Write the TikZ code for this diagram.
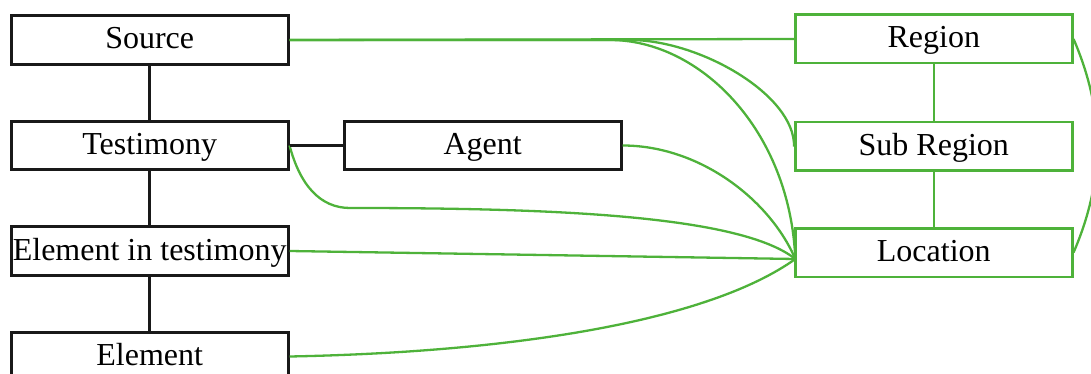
\documentclass[tikz,border=0pt]{standalone}
\usepackage{fontspec}
\setmainfont{Liberation Serif}
\definecolor{lgreen}{RGB}{78,178,58}
\begin{document}
\begin{tikzpicture}[x=1pt,y=-1pt,
  box/.style={line width=2.7pt, minimum width=277pt, minimum height=48.5pt,
    inner sep=0pt, text height=21pt, text depth=3pt,
    font=\fontsize{32}{36}\selectfont},
  blackbox/.style={box, draw=black!90},
  greenbox/.style={box, draw=lgreen, line width=2.5pt},
  blk/.style={line width=2.6pt, draw=black!90},
  grn/.style={line width=2.3pt, draw=lgreen}]
\useasboundingbox (0,0) rectangle (1091,374);
% nodes
\node[blackbox] (src) at (149.7,40)    {Source};
\node[blackbox] (tes) at (149.7,145.5) {Testimony};
\node[blackbox] (eit) at (149.7,251)   {Element in testimony};
\node[blackbox] (ele) at (149.7,356.5) {Element};
\node[blackbox] (agt) at (482.7,145.5) {Agent};
\node[greenbox] (reg) at (933.8,39)    {Region};
\node[greenbox] (sub) at (933.8,146.5) {Sub Region};
\node[greenbox] (loc) at (933.8,252.5) {Location};
\coordinate (locin) at (795.3,259);
% green connectors
\draw[grn] (src.east) -- (reg.west);
\draw[grn] (src.east) -- (610,40) .. controls (700,40) and (790,130) .. (locin);
\draw[grn] (src.east) -- (630,40) .. controls (700,40) and (795,95) .. (sub.west);
\draw[grn] (agt.east) .. controls (700,145.5) and (770,200) .. (locin);
\draw[grn] (tes.east) .. controls (300,185) and (320,208) .. (350,208)
  .. controls (550,208) and (740,215) .. (locin);
\draw[grn] (eit.east) -- (locin);
\draw[grn] (ele.east) .. controls (520,352) and (710,320) .. (locin);
\draw[grn] (reg.east) .. controls (1105,112) and (1105,179.5) .. (loc.east);
\draw[grn] (reg.south) -- (sub.north);
\draw[grn] (sub.south) -- (loc.north);
% black connectors
\draw[blk] (src.south) -- (tes.north);
\draw[blk] (tes.south) -- (eit.north);
\draw[blk] (eit.south) -- (ele.north);
\draw[blk] (tes.east) -- (agt.west);
\end{tikzpicture}
\end{document}
